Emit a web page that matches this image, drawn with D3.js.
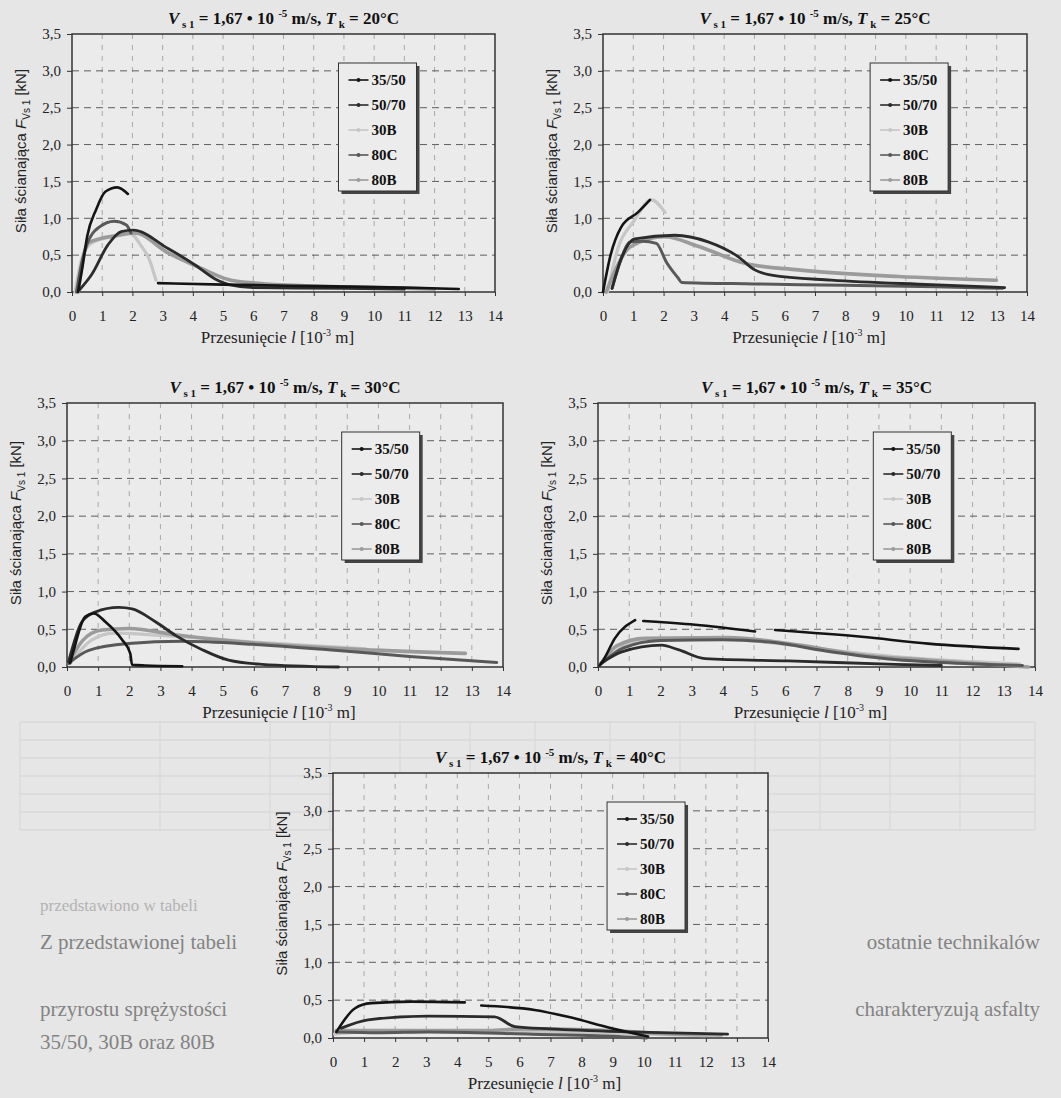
<!DOCTYPE html>
<html>
<head>
<meta charset="utf-8">
<script src="https://cdn.jsdelivr.net/npm/d3@7/dist/d3.min.js"></script>
<style>
  html, body { margin: 0; padding: 0; background: #e6e6e6; }
  svg { display: block; }
</style>
</head>
<body>
<div id="page"></div>
<script>
// --- dane ---
const seriesNames = ["35/50", "50/70", "30B", "80C", "80B"];
const temperatures = [20, 25, 30, 35, 40];
const xTickValues = [0, 1, 2, 3, 4, 5, 6, 7, 8, 9, 10, 11, 12, 13, 14];
const yTickValues = [0, 0.5, 1, 1.5, 2, 2.5, 3, 3.5];

// Tk = 20°C
const t20_3550 = [[0.2,0],[0.35,0.35],[0.5,0.75],[0.8,1.12],[1.1,1.36],[1.5,1.42],[1.85,1.33],[2.3,null],[2.85,0.12],[5,0.1],[8,0.08],[11,0.06],[12.8,0.04]];
const t20_5070 = [[0.25,0.03],[0.64,0.23],[1.19,0.64],[1.63,0.82],[2.02,0.84],[3.18,0.59],[4.06,0.37],[4.72,0.18],[5.2,0.1],[6,0.06],[9,0.05],[11,0.04]];
const t20_30B  = [[0.1,0],[0.3,0.42],[0.6,0.65],[1,0.72],[1.5,0.76],[1.9,0.8],[2.3,0.62],[2.55,0.45],[2.78,0.16]];
const t20_80C  = [[0.15,0],[0.3,0.35],[0.5,0.65],[0.9,0.88],[1.4,0.96],[1.8,0.91],[1.95,0.8]];
const t20_80B  = [[0.2,0],[0.53,0.67],[1.52,0.77],[2.07,0.8],[3.18,0.53],[4.28,0.32],[5.17,0.17],[6.05,0.12],[8,0.08],[10,0.06],[12,0.04]];

// Tk = 25°C
const t25_3550 = [[0,0],[0.25,0.5],[0.6,0.88],[1.15,1.08],[1.55,1.25]];
const t25_5070 = [[0.3,0.05],[0.6,0.45],[1.05,0.72],[2.37,0.77],[3.47,0.68],[4.46,0.48],[5.01,0.3],[5.56,0.23],[7.54,0.16],[10.84,0.1],[13.26,0.06]];
const t25_30B  = [[0.15,0],[0.5,0.6],[1,0.95],[1.6,1.25],[2.05,1.08]];
const t25_80C  = [[0.3,0.05],[0.6,0.45],[0.9,0.68],[1.3,0.69],[1.76,0.66],[2.1,0.4],[2.48,0.19],[2.6,0.13],[5,0.11],[8,0.09],[11,0.07],[13.2,0.05]];
const t25_80B  = [[0.1,0],[0.93,0.62],[2.04,0.75],[3.14,0.62],[4.68,0.39],[6.44,0.3],[9.74,0.21],[12.99,0.16]];

// Tk = 30°C
const t30_3550 = [[0.1,0.05],[0.2,0.2],[0.59,0.67],[0.86,0.71],[1.23,0.6],[1.77,0.36],[2.03,0.18],[2.09,0.03],[2.5,0.02],[3.7,0.01]];
const t30_5070 = [[0.05,0.07],[0.48,0.6],[0.91,0.73],[1.66,0.79],[2.09,0.77],[2.84,0.6],[3.48,0.42],[4.34,0.23],[5.19,0.09],[6.26,0.035],[8.72,0]];
const t30_30B  = [[0.1,0.05],[0.8,0.36],[1.5,0.45],[3,0.42],[6,0.33],[9.6,0.24]];
const t30_80C  = [[0.05,0.05],[0.7,0.22],[1.98,0.31],[3.69,0.34],[6,0.3],[8.4,0.23],[11,0.14],[13.8,0.06]];
const t30_80B  = [[0.05,0.05],[0.5,0.35],[1.12,0.49],[1.98,0.51],[3.59,0.42],[6.26,0.31],[9.47,0.23],[12.79,0.18]];

// Tk = 35°C
const t35_3550 = [[0.05,0.02],[0.17,0.09],[0.54,0.38],[1.19,0.62],[1.3,null],[1.45,0.61],[3.11,0.56],[5.03,0.47],[5.3,null],[5.67,0.49],[8.45,0.4],[10.58,0.31],[13.47,0.24]];
const t35_5070 = [[0.1,0.05],[0.76,0.2],[2.04,0.29],[2.57,0.23],[3.43,0.11],[6.1,0.08],[9.52,0.035],[11,0.02]];
const t35_30B  = [[0.1,0.05],[1,0.3],[2,0.36],[4,0.37],[6,0.3],[8,0.2],[10,0.12],[12,0.07],[13.5,0.04]];
const t35_80C  = [[0.1,0.04],[0.8,0.25],[2,0.35],[4,0.36],[5.5,0.33],[7.5,0.2],[9.5,0.1],[11,0.06],[13.6,0.02]];
const t35_80B  = [[0.1,0.05],[0.6,0.28],[1.51,0.38],[4.17,0.39],[6.1,0.31],[8.45,0.16],[10.6,0.09],[13.79,0]];

// Tk = 40°C
const t40_3550 = [[0.11,0.08],[0.7,0.39],[1.23,0.46],[2.52,0.48],[4.24,0.47],[4.5,null],[4.77,0.43],[6.49,0.37],[7.56,0.28],[8.96,0.13],[10.14,0.02]];
const t40_5070 = [[0.27,0.13],[1.13,0.24],[3.06,0.29],[5.2,0.28],[5.85,0.15],[7,0.12],[9.5,0.08],[12.7,0.05]];
const t40_30B  = [[0.05,0.05],[1,0.08],[5,0.09],[9,0.06],[12,0.03]];
const t40_80C  = [[0.1,0.08],[1.5,0.07],[3.06,0.08],[6.4,0.05],[8.5,0.03],[10.1,0]];
const t40_80B  = [[0.1,0.1],[1,0.1],[5,0.1],[6.1,0.12],[8.96,0.1],[10.5,0.06],[12.5,0.04]];

const chartData = {
  20: [t20_3550, t20_5070, t20_30B, t20_80C, t20_80B],
  25: [t25_3550, t25_5070, t25_30B, t25_80C, t25_80B],
  30: [t30_3550, t30_5070, t30_30B, t30_80C, t30_80B],
  35: [t35_3550, t35_5070, t35_30B, t35_80C, t35_80B],
  40: [t40_3550, t40_5070, t40_30B, t40_80C, t40_80B]
};

// --- wyglad ---
const seriesColors = ["#141414", "#2b2b2b", "#c6c6c6", "#585858", "#9b9b9b"];
const seriesWidths = [2.6, 2.8, 3.2, 3, 3.6];
const drawOrder = [2, 4, 3, 1, 0];
const serif = "'Liberation Serif', 'Times New Roman', serif";

// polozenie wykresow na stronie (ramka obszaru danych)
const layout = [
  { t: 20, left: 72,  top: 34,  right: 495,  bottom: 292 },
  { t: 25, left: 603, top: 34,  right: 1027, bottom: 292 },
  { t: 30, left: 67,  top: 403, right: 503,  bottom: 667 },
  { t: 35, left: 598, top: 403, right: 1035, bottom: 667 },
  { t: 40, left: 333, top: 773, right: 768,  bottom: 1038 }
];

const W = 1061, H = 1098;
const svg = d3.select("#page").append("svg").attr("width", W).attr("height", H);

// tlo strony - przebijajaca tabela i tekst z drugiej strony kartki
const ghost = svg.append("g");
const tableRows = [722, 740, 758, 776, 794, 812, 830];
const tableCols = [20, 160, 270, 330, 400, 470, 535, 610, 680, 755, 820, 890, 960, 1035];
ghost.selectAll("line.row").data(tableRows).join("line")
  .attr("class", "row")
  .attr("x1", 20).attr("x2", 1035).attr("y1", d => d).attr("y2", d => d)
  .attr("stroke", "#d3d3d3").attr("stroke-width", 1);
ghost.selectAll("line.col").data(tableCols).join("line")
  .attr("class", "col")
  .attr("x1", d => d).attr("x2", d => d).attr("y1", 722).attr("y2", 830)
  .attr("stroke", "#d6d6d6").attr("stroke-width", 1);

const ghostText = ghost.append("g")
  .attr("font-family", serif).attr("font-size", 21).attr("fill", "#838383");
ghostText.append("text").attr("x", 40).attr("y", 911).attr("font-size", 17).attr("fill", "#b3b3b3").text("przedstawiono w tabeli");
ghostText.append("text").attr("x", 40).attr("y", 949).text("Z przedstawionej tabeli");
ghostText.append("text").attr("x", 1040).attr("y", 949).attr("text-anchor", "end").text("ostatnie technikalów");
ghostText.append("text").attr("x", 40).attr("y", 1016).text("przyrostu sprężystości");
ghostText.append("text").attr("x", 1040).attr("y", 1016).attr("text-anchor", "end").text("charakteryzują asfalty");
ghostText.append("text").attr("x", 40).attr("y", 1049).text("35/50, 30B oraz 80B");

function drawChart(cfg) {
  const g = svg.append("g");
  const x = d3.scaleLinear().domain([0, 14]).range([cfg.left, cfg.right]);
  const y = d3.scaleLinear().domain([0, 3.5]).range([cfg.bottom, cfg.top]);
  const cx = (cfg.left + cfg.right) / 2;

  g.append("rect")
    .attr("x", cfg.left).attr("y", cfg.top)
    .attr("width", cfg.right - cfg.left).attr("height", cfg.bottom - cfg.top)
    .attr("fill", "#ebebeb").attr("fill-opacity", 0.92);

  // siatka pionowa
  g.append("g").selectAll("line").data(xTickValues.slice(1, -1)).join("line")
    .attr("x1", d => x(d)).attr("x2", d => x(d))
    .attr("y1", cfg.top).attr("y2", cfg.bottom)
    .attr("stroke", "#a8a8a8").attr("stroke-width", 1).attr("stroke-dasharray", "5,6");

  // siatka pozioma
  g.append("g").selectAll("line").data(yTickValues.slice(1, -1)).join("line")
    .attr("x1", cfg.left).attr("x2", cfg.right)
    .attr("y1", d => y(d)).attr("y2", d => y(d))
    .attr("stroke", "#5e5e5e").attr("stroke-width", 1).attr("stroke-dasharray", "7,5");

  // osie
  const fmt = d => d3.format(".1f")(d).replace(".", ",");
  const ax = g.append("g").attr("transform", `translate(0,${cfg.bottom})`)
    .call(d3.axisBottom(x).tickValues(xTickValues).tickSize(4).tickPadding(14));
  const ay = g.append("g").attr("transform", `translate(${cfg.left},0)`)
    .call(d3.axisLeft(y).tickValues(yTickValues).tickFormat(fmt).tickSize(5).tickPadding(6));
  [ax, ay].forEach(a => {
    a.attr("font-family", serif).attr("font-size", 15);
    a.select(".domain").remove();
    a.selectAll("line").attr("stroke", "#333");
    a.selectAll("text").attr("fill", "#222");
  });

  g.append("rect")
    .attr("x", cfg.left).attr("y", cfg.top)
    .attr("width", cfg.right - cfg.left).attr("height", cfg.bottom - cfg.top)
    .attr("fill", "none").attr("stroke", "#333").attr("stroke-width", 1.5);

  // krzywe
  const line = d3.line()
    .defined(d => d[1] !== null)
    .x(d => x(d[0])).y(d => y(d[1]))
    .curve(d3.curveMonotoneX);
  const series = chartData[cfg.t];
  drawOrder.forEach(i => {
    g.append("path").datum(series[i])
      .attr("d", line)
      .attr("fill", "none")
      .attr("stroke", seriesColors[i])
      .attr("stroke-width", seriesWidths[i])
      .attr("stroke-linejoin", "round").attr("stroke-linecap", "round");
  });

  // tytul
  const title = g.append("text")
    .attr("x", cx).attr("y", cfg.top - 10)
    .attr("text-anchor", "middle")
    .attr("font-family", serif)
    .attr("font-size", 17).attr("font-weight", "bold").attr("fill", "#111");
  title.append("tspan").attr("font-style", "italic").text("V");
  title.append("tspan").attr("font-size", 11).attr("dy", 4).text(" s 1");
  title.append("tspan").attr("dy", -4).text(" = 1,67 • 10 ");
  title.append("tspan").attr("font-size", 11).attr("dy", -7).text("-5");
  title.append("tspan").attr("dy", 7).text(" m/s, ");
  title.append("tspan").attr("font-style", "italic").text("T");
  title.append("tspan").attr("font-size", 11).attr("dy", 4).text(" k");
  title.append("tspan").attr("dy", -4).text(` = ${cfg.t}°C`);

  // etykieta osi X
  const xl = g.append("text")
    .attr("x", cx - 6).attr("y", cfg.bottom + 51)
    .attr("text-anchor", "middle")
    .attr("font-family", serif)
    .attr("font-size", 17).attr("fill", "#222");
  xl.append("tspan").text("Przesunięcie ");
  xl.append("tspan").attr("font-style", "italic").text("l");
  xl.append("tspan").text(" [10");
  xl.append("tspan").attr("font-size", 10).attr("dy", -7).text("-3");
  xl.append("tspan").attr("dy", 7).text(" m]");

  // etykieta osi Y
  const yc = (cfg.top + cfg.bottom) / 2 - 12;
  const yl = g.append("text")
    .attr("transform", `translate(${cfg.left - 46},${yc}) rotate(-90)`)
    .attr("text-anchor", "middle")
    .attr("font-family", "'Liberation Sans', Arial, sans-serif")
    .attr("font-size", 15).attr("fill", "#222");
  yl.append("tspan").text("Siła ścianająca ");
  yl.append("tspan").attr("font-style", "italic").text("F");
  yl.append("tspan").attr("font-size", 10).attr("dy", 4).text("Vs 1");
  yl.append("tspan").attr("dy", -4).text(" [kN]");

  // legenda
  const lx = cfg.left + 0.63 * (cfg.right - cfg.left);
  const ly = cfg.top + 29;
  const lw = 78, lh = 128;
  const lg = g.append("g").attr("transform", `translate(${lx},${ly})`);
  lg.append("rect").attr("x", 3).attr("y", 3).attr("width", lw).attr("height", lh).attr("fill", "#444");
  lg.append("rect").attr("width", lw).attr("height", lh).attr("fill", "#ececec").attr("stroke", "#333").attr("stroke-width", 1);
  seriesNames.forEach((name, i) => {
    const ry = 17 + i * 25;
    lg.append("line").attr("x1", 10).attr("x2", 30).attr("y1", ry).attr("y2", ry)
      .attr("stroke", seriesColors[i]).attr("stroke-width", 1.6);
    lg.append("circle").attr("cx", 20).attr("cy", ry).attr("r", 2).attr("fill", seriesColors[i]);
    lg.append("text").attr("x", 33).attr("y", ry + 5)
      .attr("font-family", serif)
      .attr("font-size", 15).attr("font-weight", "bold").attr("fill", "#111")
      .text(name);
  });
}

layout.forEach(drawChart);
</script>
</body>
</html>
